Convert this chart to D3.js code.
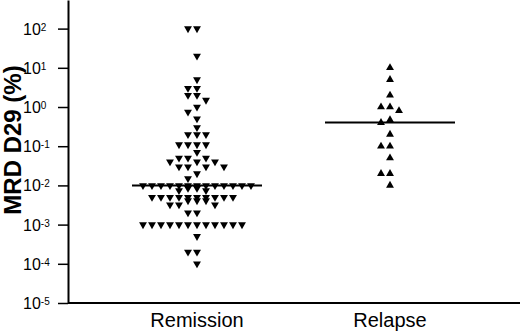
<!DOCTYPE html>
<html>
<head>
<meta charset="utf-8">
<script src="https://cdn.jsdelivr.net/npm/d3@7"></script>
<style>
  body { margin: 0; background: #fff; }
  text { font-family: "Liberation Sans", Arial, sans-serif; }
</style>
</head>
<body>
<svg id="chart" width="520" height="331"></svg>
<script>
const groups = ["Remission", "Relapse"];
const exponents = [-5, -4, -3, -2, -1, 0, 1, 2];

// MRD values (%)
const remission = [
  100, 100, 20, 5, 3, 3, 2, 2, 1.5, 1, 0.75, 0.5, 0.3,
  0.2, 0.2, 0.2, 0.11, 0.11, 0.11, 0.11, 0.07,
  0.05, 0.05, 0.05, 0.04, 0.04, 0.04, 0.03, 0.03, 0.03, 0.03, 0.02, 0.015,
  0.01, 0.01, 0.01, 0.01, 0.01, 0.01, 0.01, 0.01, 0.01, 0.01, 0.01, 0.01, 0.01,
  0.0085, 0.0085, 0.0074, 0.0074,
  0.005, 0.005, 0.005, 0.005, 0.005, 0.005, 0.005, 0.005, 0.005, 0.005,
  0.0041, 0.0041, 0.0041, 0.0032, 0.0032, 0.0032, 0.002, 0.002,
  0.001, 0.001, 0.001, 0.001, 0.001, 0.001, 0.001, 0.001, 0.001, 0.001, 0.001, 0.001,
  0.0005, 0.0002, 0.0002, 0.0001
];
const relapse = [10, 5, 2, 1, 1, 0.8, 0.47, 0.4, 0.2, 0.1, 0.1, 0.05, 0.02, 0.02, 0.01];

const svg = d3.select("#chart");
const left = 68, bottom = 303, right = 520;

const y = d3.scaleLog()
    .domain([1e-5, Math.pow(10, 2.73)])
    .range([bottom, 0]);

const x = d3.scalePoint()
    .domain(groups)
    .range([197, 390]);

// dot-plot layout: columns 9px apart, push sideways on overlap.
// near the centre points keep clear of each other, in crowded rows they may touch
function swarm(values, cx) {
  const step = 9;
  const placed = [];
  const order = k => k === 0 ? 0 : (k % 2 ? -(k + 1) / 2 : k / 2);
  const free = (p, slot, gap) =>
    !placed.some(q => q.slot === slot && Math.abs(q.y - p.y) < gap);
  values.map(v => ({v, y: y(v)}))
    .sort((a, b) => a.y - b.y)
    .forEach(p => {
      p.slot = null;
      for (let k = 0; k < 7; k++) {
        if (free(p, order(k), 6)) { p.slot = order(k); break; }
      }
      for (let k = 0; p.slot === null; k++) {
        if (free(p, order(k), 2.5)) p.slot = order(k);
      }
      placed.push(p);
    });
  placed.forEach(p => p.x = cx + p.slot * step);
  return placed;
}

const tri = d3.symbol().type(d3.symbolTriangle).size(27);

// y axis
const yAxis = svg.append("g")
    .attr("transform", `translate(${left},0)`)
    .call(d3.axisLeft(y)
      .tickValues(exponents.map(e => Math.pow(10, e)))
      .tickSize(10)
      .tickSizeOuter(0)
      .tickFormat(""));
yAxis.select(".domain").attr("stroke", "#000").attr("stroke-width", 2);
yAxis.selectAll(".tick line").attr("stroke", "#000").attr("stroke-width", 1.5);

const tickLabels = svg.append("g");
exponents.forEach(e => {
  const t = tickLabels.append("text")
      .attr("x", 23)
      .attr("y", y(Math.pow(10, e)) + 6)
      .attr("font-size", 16)
      .attr("fill", "#000");
  t.append("tspan").text("10");
  t.append("tspan").attr("font-size", 10).attr("dy", -4).text(e);
});

// x axis line
svg.append("line")
    .attr("x1", left).attr("x2", right)
    .attr("y1", bottom).attr("y2", bottom)
    .attr("stroke", "#000").attr("stroke-width", 2);

svg.selectAll(".cat")
  .data(groups)
  .join("text")
    .attr("class", "cat")
    .attr("x", d => x(d))
    .attr("y", 327)
    .attr("text-anchor", "middle")
    .attr("font-size", 20)
    .text(d => d);

svg.append("text")
    .attr("transform", "translate(21,140) rotate(-90)")
    .attr("text-anchor", "middle")
    .attr("font-size", 24)
    .attr("font-weight", "bold")
    .text("MRD D29 (%)");

// points
const series = [
  {name: "Remission", values: remission, rot: 180},
  {name: "Relapse", values: relapse, rot: 0}
];

series.forEach(s => {
  svg.append("g").selectAll("path")
    .data(swarm(s.values, x(s.name)))
    .join("path")
      .attr("d", tri)
      .attr("transform", d => `translate(${d.x},${d.y}) rotate(${s.rot})`)
      .attr("fill", "#000");

  const med = d3.median(s.values);
  svg.append("line")
      .attr("x1", x(s.name) - 65).attr("x2", x(s.name) + 65)
      .attr("y1", y(med)).attr("y2", y(med))
      .attr("stroke", "#000").attr("stroke-width", 2);
});
</script>
</body>
</html>
